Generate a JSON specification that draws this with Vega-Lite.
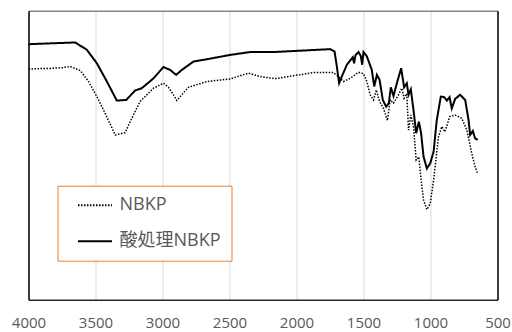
{
  "$schema": "https://vega.github.io/schema/vega-lite/v6.json",
  "width": 469,
  "height": 289,
  "autosize": "none",
  "padding": {"left": 28.5, "top": 10.7, "right": 14.5, "bottom": 32.3},
  "background": "white",
  "config": {"view": {"stroke": null}},
  "datasets": {
    "a": [
      {"wn":4000,"t":79.8},{"wn":3900,"t":80.0},{"wn":3838,"t":80.0},{"wn":3750,"t":80.3},{"wn":3689,"t":80.7},{"wn":3614,"t":79.3},{"wn":3552,"t":75.5},{"wn":3490,"t":70.3},{"wn":3428,"t":64.5},{"wn":3353,"t":57.0},{"wn":3279,"t":57.8},{"wn":3229,"t":62.8},{"wn":3167,"t":68.6},{"wn":3067,"t":73.2},{"wn":2993,"t":74.9},{"wn":2956,"t":73.5},{"wn":2918,"t":70.9},{"wn":2893,"t":68.9},{"wn":2856,"t":70.9},{"wn":2806,"t":73.5},{"wn":2669,"t":75.5},{"wn":2495,"t":76.4},{"wn":2358,"t":78.4},{"wn":2271,"t":77.2},{"wn":2159,"t":76.5},{"wn":2022,"t":77.5},{"wn":1873,"t":78.6},{"wn":1724,"t":78.6},{"wn":1687,"t":77.2},{"wn":1649,"t":75.5},{"wn":1600,"t":76.6},{"wn":1537,"t":78.7},{"wn":1500,"t":78.2},{"wn":1475,"t":75.5},{"wn":1450,"t":70.9},{"wn":1425,"t":69.1},{"wn":1405,"t":72.6},{"wn":1380,"t":68.6},{"wn":1351,"t":66.2},{"wn":1321,"t":62.0},{"wn":1301,"t":69.1},{"wn":1276,"t":68.0},{"wn":1239,"t":70.9},{"wn":1214,"t":73.2},{"wn":1197,"t":69.7},{"wn":1177,"t":71.3},{"wn":1164,"t":58.7},{"wn":1147,"t":63.9},{"wn":1127,"t":59.9},{"wn":1107,"t":48.3},{"wn":1087,"t":49.4},{"wn":1070,"t":41.4},{"wn":1052,"t":34.5},{"wn":1027,"t":31.2},{"wn":1002,"t":33.3},{"wn":977,"t":41.4},{"wn":940,"t":56.4},{"wn":915,"t":59.9},{"wn":893,"t":58.1},{"wn":856,"t":63.4},{"wn":816,"t":63.9},{"wn":767,"t":62.8},{"wn":729,"t":58.7},{"wn":692,"t":50.6},{"wn":667,"t":46.0},{"wn":649,"t":43.7}
    ],
    "b": [
      {"wn":4000,"t":88.4},{"wn":3838,"t":88.7},{"wn":3652,"t":89.0},{"wn":3565,"t":86.5},{"wn":3490,"t":81.8},{"wn":3415,"t":75.5},{"wn":3341,"t":68.9},{"wn":3271,"t":69.1},{"wn":3204,"t":72.4},{"wn":3154,"t":73.2},{"wn":3067,"t":76.6},{"wn":2993,"t":80.5},{"wn":2943,"t":79.5},{"wn":2898,"t":77.8},{"wn":2856,"t":79.5},{"wn":2769,"t":82.4},{"wn":2669,"t":83.2},{"wn":2495,"t":84.7},{"wn":2346,"t":85.7},{"wn":2172,"t":85.7},{"wn":1997,"t":86.1},{"wn":1749,"t":86.7},{"wn":1716,"t":85.9},{"wn":1699,"t":80.7},{"wn":1682,"t":74.9},{"wn":1662,"t":77.2},{"wn":1624,"t":81.3},{"wn":1580,"t":83.9},{"wn":1570,"t":81.8},{"wn":1560,"t":84.6},{"wn":1537,"t":85.7},{"wn":1520,"t":84.3},{"wn":1510,"t":81.3},{"wn":1500,"t":85.7},{"wn":1475,"t":84.2},{"wn":1438,"t":79.5},{"wn":1420,"t":73.8},{"wn":1400,"t":77.8},{"wn":1380,"t":76.1},{"wn":1356,"t":69.1},{"wn":1331,"t":66.8},{"wn":1311,"t":68.0},{"wn":1296,"t":73.5},{"wn":1276,"t":70.5},{"wn":1251,"t":74.9},{"wn":1219,"t":80.1},{"wn":1197,"t":73.5},{"wn":1177,"t":74.9},{"wn":1164,"t":70.9},{"wn":1147,"t":72.8},{"wn":1127,"t":65.7},{"wn":1107,"t":57.6},{"wn":1087,"t":61.6},{"wn":1070,"t":57.6},{"wn":1052,"t":49.5},{"wn":1027,"t":45.4},{"wn":1002,"t":47.2},{"wn":977,"t":51.2},{"wn":953,"t":62.2},{"wn":923,"t":70.3},{"wn":898,"t":70.1},{"wn":878,"t":68.9},{"wn":858,"t":70.1},{"wn":841,"t":66.2},{"wn":816,"t":69.5},{"wn":779,"t":70.9},{"wn":741,"t":69.1},{"wn":716,"t":62.2},{"wn":704,"t":57.0},{"wn":684,"t":58.4},{"wn":667,"t":55.8},{"wn":647,"t":55.3}
    ]
  },
  "layer": [
    {
      "data": {"name": "a"},
      "transform": [{"calculate": "'NBKP'", "as": "s"}],
      "mark": {"type": "line", "color": "black", "strokeWidth": 1.5},
      "encoding": {
        "x": {"field": "wn", "type": "quantitative", "scale": {"domain": [500, 4000], "reverse": true, "nice": false, "zero": false},
          "axis": {"orient": "bottom", "title": null, "values": [4000,3500,3000,2500,2000,1500,1000,500], "format": "d", "ticks": false, "tickSize": 0, "labelPadding": 16, "labelFont": "Open Sans", "labelFontSize": 15, "labelColor": "#595959", "labelOverlap": false, "labelFlush": false, "grid": true, "gridColor": "#d9d9d9", "gridWidth": 1, "domainColor": "#262626", "domainWidth": 1.5}},
        "y": {"field": "t", "type": "quantitative", "scale": {"domain": [0, 100], "nice": false, "zero": false},
          "axis": {"orient": "left", "title": null, "labels": false, "ticks": false, "grid": false, "domainColor": "#000000", "domainWidth": 1.5}},
        "strokeDash": {"field": "s", "type": "nominal", "scale": {"domain": ["NBKP", "酸処理NBKP"], "range": [[1.5, 1.5], [1, 0]]},
          "legend": {"orient": "none", "legendX": 29, "legendY": 175, "title": null, "strokeColor": "#ED7D31", "fillColor": "white", "padding": 10, "symbolType": "M-2,0H2", "symbolSize": 289, "symbolStrokeWidth": 2, "symbolStrokeColor": "black", "symbolOffset": 18, "labelOffset": 15, "labelFont": "Open Sans, Noto Sans CJK JP", "labelFontSize": 18, "labelColor": "#595959", "rowPadding": 17, "labelLimit": 300}}
      }
    },
    {
      "data": {"name": "b"},
      "transform": [{"calculate": "'酸処理NBKP'", "as": "s"}],
      "mark": {"type": "line", "color": "black", "strokeWidth": 2},
      "encoding": {
        "x": {"field": "wn", "type": "quantitative",
          "axis": {"orient": "top", "title": null, "labels": false, "ticks": false, "grid": false, "domainColor": "#888888", "domainWidth": 1.5}},
        "y": {"field": "t", "type": "quantitative",
          "axis": {"orient": "right", "title": null, "labels": false, "ticks": false, "grid": false, "domainColor": "#000000", "domainWidth": 1.5}},
        "strokeDash": {"field": "s", "type": "nominal"}
      }
    }
  ],
  "resolve": {"axis": {"x": "independent", "y": "independent"}}
}
